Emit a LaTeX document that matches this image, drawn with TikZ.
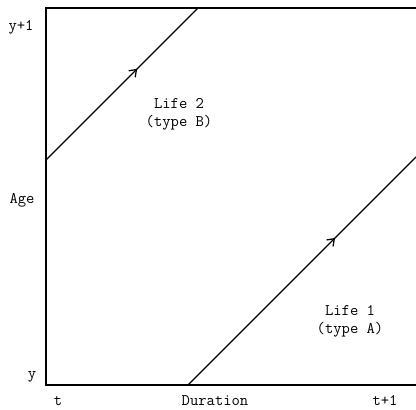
\documentclass[tikz,border=0pt]{standalone}
\usetikzlibrary{decorations.markings,arrows.meta}
\tikzset{
  lbl/.style={font=\ttfamily\fontsize{11.5}{13}\selectfont, inner sep=0pt},
  life/.style={line width=0.9pt, postaction={decorate},
    decoration={markings, mark=at position #1 with
      {\arrow{Straight Barb[length=4.5pt,width=6.5pt,line width=0.9pt]}}}},
}
\begin{document}
\begin{tikzpicture}
\useasboundingbox (0,0) rectangle (10.4,10.225);
% frame
\coordinate (tl) at (1.15,10.025);
\coordinate (bl) at (1.15,0.6);
\coordinate (tr) at (10.4,10.025);
\coordinate (br) at (10.4,0.6);
\draw[line width=1pt] (tr) -- (tl) -- (bl) -- (br);
% lives
\coordinate (s2) at (1.15,6.225);
\coordinate (e2) at (4.95,10.025);
\coordinate (s1) at (4.7,0.6);
\coordinate (e1) at (10.4,6.3);
\draw[life=0.6] (s2) -- (e2);
\draw[life=0.645] (s1) -- (e1);
% labels
\node[lbl] (ytop) at (0.525,9.55) {y+1};
\node[lbl] (age) at (0.55,5.225) {Age};
\node[lbl] (ybot) at (0.8,0.8) {y};
\node[lbl] (t0) at (1.45,0.21) {t};
\node[lbl] (dur) at (5.375,0.21) {Duration};
\node[lbl] (t1) at (9.625,0.21) {t+1};
\node[lbl, align=center] (life2) at (4.475,7.375) {Life 2\\(type B)};
\node[lbl, align=center] (life1) at (8.75,2.2) {Life 1\\(type A)};
\end{tikzpicture}
\end{document}
